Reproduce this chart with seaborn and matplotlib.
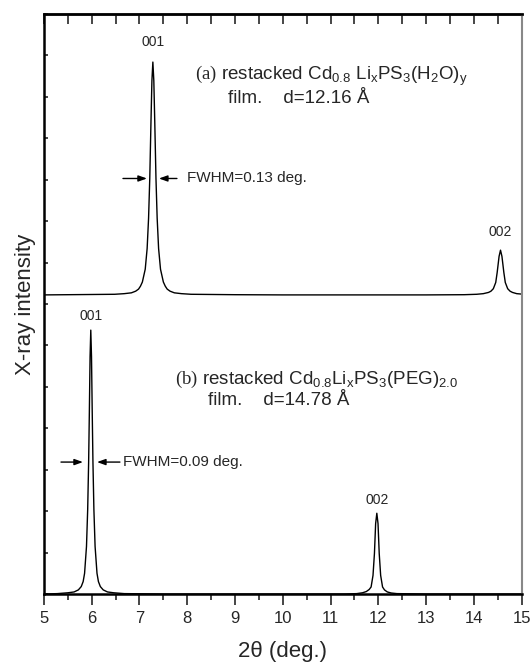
import matplotlib
matplotlib.use("Agg")
import matplotlib.pyplot as plt
import numpy as np
import seaborn as sns
import pandas as pd

# --- data (arbitrary intensity units, 0..14) ---
# (a) restacked Cd0.8LixPS3(H2O)y, offset trace
a_x = [5.0, 6.0, 6.48, 6.68, 6.83, 6.92, 6.98, 7.02, 7.06, 7.12, 7.16, 7.19, 7.215, 7.24, 7.26, 7.28,
       7.30, 7.32, 7.345, 7.37, 7.40, 7.44, 7.50, 7.54, 7.58, 7.64, 7.73, 7.88, 8.08, 9.0, 10.0,
       11.0, 12.0, 13.0, 13.8, 14.06, 14.2, 14.31, 14.36, 14.41, 14.46, 14.49, 14.53, 14.56,
       14.59, 14.63, 14.66, 14.71, 14.76, 14.81, 14.9, 15.0]
a_y = [7.22, 7.23, 7.235, 7.25, 7.27, 7.31, 7.36, 7.43, 7.53, 7.84, 8.34, 9.07, 10.03, 11.38, 12.39, 12.84,
       12.39, 11.38, 10.03, 9.07, 8.34, 7.84, 7.53, 7.43, 7.36, 7.31, 7.27, 7.25, 7.235, 7.225, 7.22,
       7.22, 7.22, 7.22, 7.225, 7.235, 7.25, 7.28, 7.31, 7.37, 7.52, 7.76, 8.15, 8.30,
       8.15, 7.76, 7.52, 7.37, 7.31, 7.28, 7.25, 7.24]

# (b) restacked Cd0.8LixPS3(PEG)2.0
b_x = [5.0, 5.28, 5.5, 5.63, 5.72, 5.78, 5.82, 5.85, 5.89, 5.915, 5.935, 5.95, 5.965, 5.98,
       5.995, 6.01, 6.025, 6.045, 6.07, 6.11, 6.14, 6.18, 6.24, 6.33, 6.46, 6.68, 7.5, 9.0,
       10.5, 11.3, 11.55, 11.67, 11.75, 11.81, 11.85, 11.89, 11.92, 11.945, 11.97,
       11.995, 12.02, 12.05, 12.09, 12.13, 12.19, 12.27, 12.39, 13.0, 14.0, 15.0]
b_y = [0.0, 0.01, 0.03, 0.05, 0.10, 0.18, 0.30, 0.5, 1.15, 2.04, 3.19, 4.40, 5.73, 6.37,
       5.73, 4.40, 3.19, 2.04, 1.15, 0.5, 0.30, 0.18, 0.10, 0.05, 0.03, 0.01, 0.0, 0.0,
       0.0, 0.0, 0.01, 0.03, 0.06, 0.11, 0.17, 0.45, 0.98, 1.70, 1.95,
       1.70, 0.98, 0.45, 0.17, 0.10, 0.05, 0.025, 0.01, 0.0, 0.0, 0.0]

x_ticks = list(range(5, 16))

sns.set_style("ticks")
plt.rcParams["font.family"] = ["Liberation Sans", "DejaVu Sans"]
plt.rcParams["mathtext.fontset"] = "custom"
plt.rcParams["mathtext.rm"] = "Liberation Serif"
plt.rcParams["mathtext.default"] = "regular"

fig = plt.figure(figsize=(5.3, 6.67), dpi=100)
ax = fig.add_axes([0.083, 0.1094, 0.901, 0.8696])

df_a = pd.DataFrame({"x": a_x, "y": a_y})
df_b = pd.DataFrame({"x": b_x, "y": b_y})
sns.lineplot(data=df_a, x="x", y="y", color="black", lw=1.0, sort=False, estimator=None, ax=ax)
sns.lineplot(data=df_b, x="x", y="y", color="black", lw=1.0, sort=False, estimator=None, ax=ax)

ax.set_xlim(5, 15)
ax.set_ylim(0, 14)
ax.set_xticks(x_ticks)
ax.set_xticks(np.arange(5.5, 15, 1.0), minor=True)
ax.set_yticks(np.arange(0, 15, 1))
ax.set_yticklabels([])
ax.tick_params(axis="x", which="major", direction="out", length=8, width=1.2, labelsize=12, pad=4)
ax.tick_params(axis="x", which="minor", direction="out", length=4, width=1.2)
ax.tick_params(axis="y", which="major", direction="in", length=3, width=1.2, left=True, right=False)

# top axis: inward ticks, no labels
top = ax.secondary_xaxis("top")
top.set_xticks(x_ticks)
top.set_xticks(np.arange(5.5, 15, 1.0), minor=True)
top.tick_params(which="major", direction="in", length=7, width=1.2, labeltop=False)
top.tick_params(which="minor", direction="in", length=7, width=1.2)
top.spines["top"].set_linewidth(1.8)

for s in ["left", "bottom", "top"]:
    ax.spines[s].set_linewidth(1.8)
    ax.spines[s].set_color("black")
ax.spines["right"].set_color("#888888")
ax.spines["right"].set_linewidth(1.5)

ax.set_xlabel("2\u03b8 (deg.)", fontsize=16, labelpad=11)
ax.set_ylabel("X-ray intensity", fontsize=16, labelpad=2)

# peak labels
ax.text(7.28, 13.32, "001", ha="center", va="center", fontsize=10)
ax.text(14.56, 8.74, "002", ha="center", va="center", fontsize=10)
ax.text(5.98, 6.71, "001", ha="center", va="center", fontsize=10)
ax.text(11.97, 2.27, "002", ha="center", va="center", fontsize=10)

# sample descriptions
ax.text(8.16, 12.50, r"$\mathrm{(a)}$ restacked Cd$_{0.8}$ Li$_x$PS$_3$(H$_2$O)$_y$",
        ha="left", va="center", fontsize=13.5)
ax.text(8.85, 11.97, "film.    d=12.16 \u00c5", ha="left", va="center", fontsize=13.5)
ax.text(7.75, 5.17, r"$\mathrm{(b)}$ restacked Cd$_{0.8}$Li$_x$PS$_3$(PEG)$_{2.0}$",
        ha="left", va="center", fontsize=13.5)
ax.text(8.43, 4.68, "film.    d=14.78 \u00c5", ha="left", va="center", fontsize=13.5)

# FWHM markers
arw = dict(arrowstyle="-|>,head_length=0.5,head_width=0.18", color="black", lw=1.0,
           shrinkA=0, shrinkB=0)
ya = (max(a_y) + a_y[0]) / 2
ax.annotate("", xy=(7.156, ya), xytext=(6.654, ya), arrowprops=arw)
ax.annotate("", xy=(7.407, ya), xytext=(7.784, ya), arrowprops=arw)
ax.text(7.99, ya, "FWHM=0.13 deg.", ha="left", va="center", fontsize=11)

yb = max(b_y) / 2
ax.annotate("", xy=(5.816, yb), xytext=(5.356, yb), arrowprops=arw)
ax.annotate("", xy=(6.11, yb), xytext=(6.59, yb), arrowprops=arw)
ax.text(6.654, yb, "FWHM=0.09 deg.", ha="left", va="center", fontsize=11)

fig.savefig("out.png", dpi=100)
